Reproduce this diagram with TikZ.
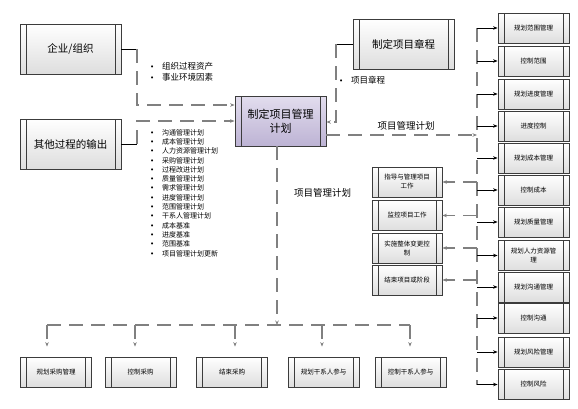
\documentclass[tikz,border=0pt]{standalone}
\usepackage{fontspec}
\setmainfont{Noto Sans CJK SC}
\newfontfamily\dejavu{DejaVu Sans}
\usetikzlibrary{arrows.meta}
\definecolor{pfillA}{HTML}{E2DDEE}
\definecolor{pfillB}{HTML}{BDB3D4}
\definecolor{dashc}{HTML}{808080}
\definecolor{edgec}{HTML}{3C3C3C}
\tikzset{
  pbox/.style={draw=edgec, line width=0.8pt, top color=white, bottom color=black!13,
    minimum width=#1, inner sep=1pt, align=center,
    path picture={
      \draw[edgec,line width=0.6pt] ([xshift=6pt]path picture bounding box.north west) -- ([xshift=6pt]path picture bounding box.south west);
      \draw[edgec,line width=0.6pt] ([xshift=-6pt]path picture bounding box.north east) -- ([xshift=-6pt]path picture bounding box.south east);}},
  bigbox/.style={pbox=101pt, minimum height=50pt, font=\fontsize{10.5}{13}\selectfont},
  smallbox/.style={pbox=71pt, minimum height=30pt, font=\fontsize{6.5}{9}\selectfont},
  planbox/.style={bigbox, minimum width=91pt, top color=pfillA, bottom color=pfillB, font=\fontsize{11}{14}\selectfont},
  sline/.style={draw=black, line width=0.8pt},
  dline/.style={draw=dashc, line width=1.1pt, dash pattern=on 14pt off 8pt},
  arr/.style={-{Stealth[length=4.5pt,width=3.5pt]}},
  lbl/.style={inner sep=0pt, font=\fontsize{9.5}{12}\selectfont},
  blist/.style={inner sep=0pt, align=left, anchor=north west},
}
\newcommand{\bul}{\makebox[12pt][l]{\dejavu\scriptsize •}}
\begin{document}
\begin{tikzpicture}[x=1pt,y=-1pt]
\useasboundingbox (0,0) rectangle (578,408);

% main boxes
\node[bigbox] (org) at (70.5,49) {企业/组织};
\node[bigbox] (oth) at (70.5,144) {其他过程的输出};
\node[planbox] (plan) at (280.5,121) {制定项目管理\\计划};
\node[bigbox] (chr) at (403.5,44) {制定项目章程};

% right column
\foreach \n/\y/\t in {r1/28/规划范围管理, r2/61/控制范围, r3/94/规划进度管理, r4/126/进度控制,
  r5/158/规划成本管理, r6/190/控制成本, r7/222/规划质量管理, r8/255.5/{规划人力资源管\\理},
  r9/287/规划沟通管理, r10/318/控制沟通, r11/352/规划风险管理, r12/384.5/控制风险}
  {\node[smallbox] (\n) at (533.5,\y) {\t};}

% middle column
\foreach \n/\y/\t in {m1/182/{指导与管理项目\\工作}, m2/215.5/监控项目工作, m3/248/{实施整体变更控\\制}, m4/280/结束项目或阶段}
  {\node[smallbox, minimum width=70pt] (\n) at (407,\y) {\t};}

% bottom row
\foreach \n/\x/\t in {b1/56/规划采购管理, b2/140.5/控制采购, b3/232/结束采购, b4/323.5/规划干系人参与, b5/410.5/控制干系人参与}
  {\node[smallbox] (\n) at (\x,372) {\t};}

% labels
\node[blist, font=\fontsize{8.5}{11.5}\selectfont] (inl1) at (150,62) {\bul 组织过程资产\\\bul 事业环境因素};
\node[blist, font=\fontsize{7}{9.3}\selectfont] (inl2) at (150,129) {\bul 沟通管理计划\\\bul 成本管理计划\\\bul 人力资源管理计划\\\bul 采购管理计划\\\bul 过程改进计划\\\bul 质量管理计划\\\bul 需求管理计划\\\bul 进度管理计划\\\bul 范围管理计划\\\bul 干系人管理计划\\\bul 成本基准\\\bul 进度基准\\\bul 范围基准\\\bul 项目管理计划更新};
\node[blist, font=\fontsize{8.5}{11}\selectfont] (inl3) at (339,76.5) {\bul 项目章程};
\node[lbl] (lab1) at (406,126) {项目管理计划};
\node[lbl] (lab2) at (322.5,193) {项目管理计划};

% inputs
\coordinate (j1) at (137,49);
\coordinate (j2) at (137,144);
\draw[sline] (org.east) -- (j1);
\draw[dline,arr] (j1) -- (137,105) -- (plan.west |- 0,105);
\draw[sline] (oth.east) -- (j2);
\draw[dline,arr] (j2) -- (137,121) -- (plan.west |- 0,121);

\coordinate (j3) at (336,44);
\draw[sline] (chr.west) -- (j3);
\draw[dline,arr] (j3) -- (336,122) -- (plan.east |- 0,122);

% output to right bus
\coordinate (bt) at (477,28);
\coordinate (bb) at (477,385);
\draw[dline,arr] (plan.east |- 0,135) -- (477,135);
\draw[dline] (bt) -- (bb);
\foreach \n in {r1,r2,r3,r4,r5,r6,r7,r8,r9,r10,r11,r12}
  \draw[sline,arr] (bt |- \n.west) -- (\n.west);
\foreach \n in {m1,m2,m3,m4}
  \draw[dline,arr] (bt |- \n.east) -- (\n.east);

% bottom bus
\coordinate (hb) at (277,325);
\draw[dline,arr] ([xshift=-3.5pt]plan.south) -- (hb);
\draw[dline] (47,325) -- (410,325);
\foreach \n/\x in {b1/47, b2/135, b3/235, b4/322, b5/410}
  \draw[dline,arr,shorten >=10pt] (\x,325) -- (\x,0 |- \n.north);
\end{tikzpicture}
\end{document}
